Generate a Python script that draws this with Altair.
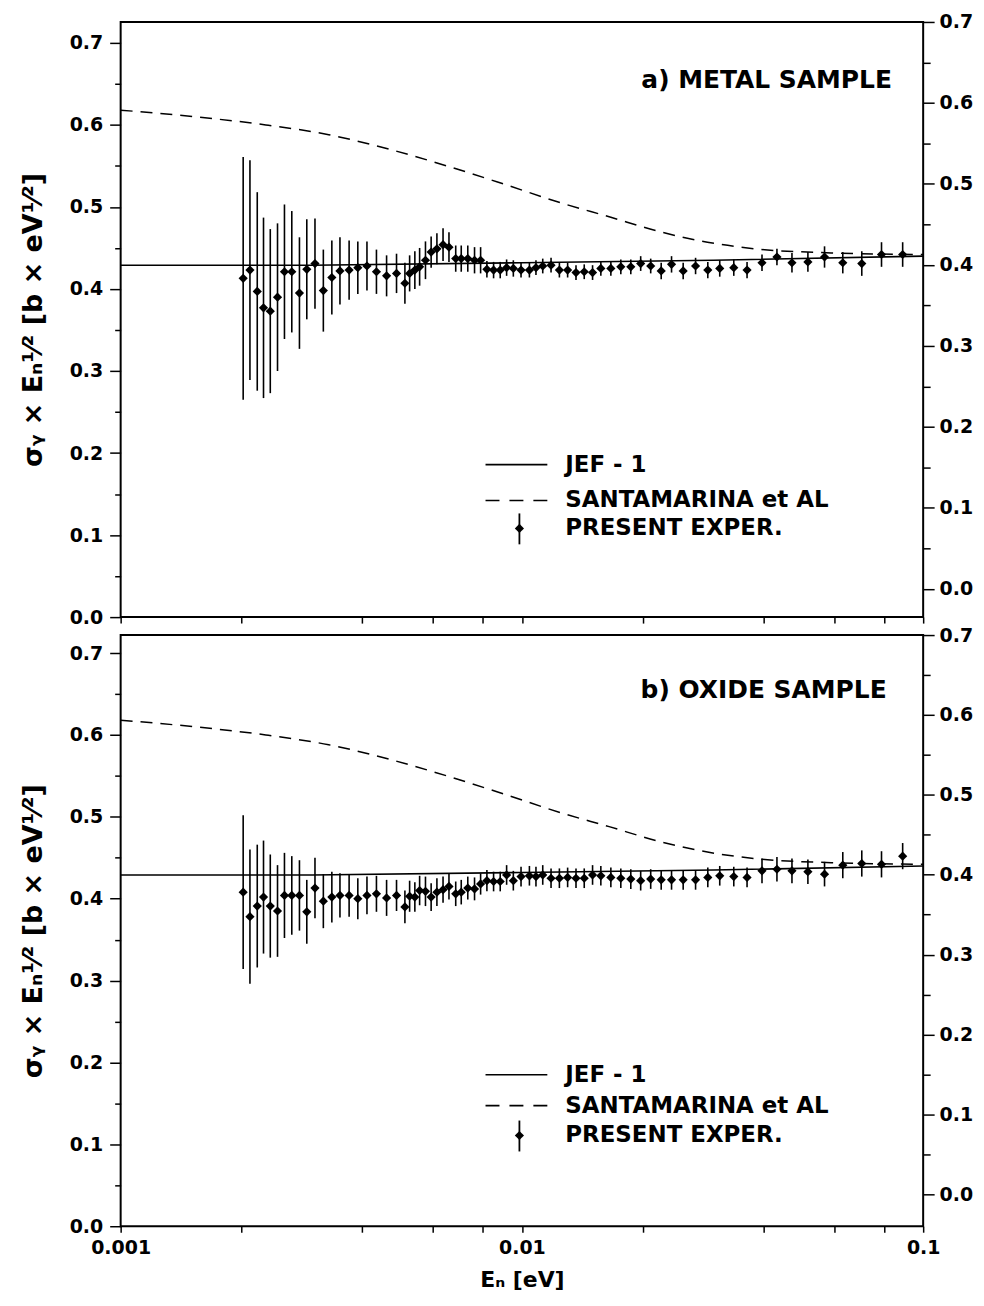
import altair as alt
import pandas as pd

# ---------------- data ----------------
energy = [
    0.00202, 0.00210, 0.00219, 0.00227, 0.00236, 0.00246, 0.00256, 0.00267, 0.00279, 0.00291,
    0.00305, 0.00320, 0.00336, 0.00352, 0.00371, 0.00390, 0.00411, 0.00434, 0.00460, 0.00487,
    0.00511, 0.00525, 0.00541, 0.00556, 0.00575, 0.00594, 0.00614, 0.00636, 0.00658, 0.00684,
    0.00706, 0.00733, 0.00762, 0.00789, 0.00818, 0.00850, 0.00883, 0.00916, 0.00952, 0.00995,
    0.01044, 0.01084, 0.01127, 0.01182, 0.01240, 0.01300, 0.01364, 0.01430, 0.01500, 0.01573,
    0.01666, 0.01764, 0.01868, 0.01977, 0.02094, 0.02224, 0.02360, 0.02523, 0.02709, 0.02906,
    0.03112, 0.03373, 0.03640, 0.03966, 0.04321, 0.04710, 0.05161, 0.05678, 0.06305, 0.07031,
    0.07874, 0.08890,
]

metal_values = [
    0.413, 0.423, 0.397, 0.377, 0.373, 0.390, 0.421, 0.421, 0.395, 0.424,
    0.431, 0.398, 0.414, 0.422, 0.423, 0.426, 0.428, 0.421, 0.416, 0.419,
    0.407, 0.419, 0.423, 0.427, 0.435, 0.445, 0.449, 0.454, 0.451, 0.437,
    0.437, 0.437, 0.435, 0.435, 0.424, 0.423, 0.423, 0.426, 0.425, 0.423,
    0.423, 0.426, 0.428, 0.429, 0.423, 0.423, 0.420, 0.421, 0.420, 0.425,
    0.425, 0.427, 0.427, 0.431, 0.428, 0.422, 0.430, 0.422, 0.428, 0.423,
    0.425, 0.426, 0.423, 0.432, 0.439, 0.432, 0.433, 0.439, 0.432, 0.431,
    0.442, 0.442,
]
metal_errors = [
    0.148, 0.134, 0.121, 0.110, 0.100, 0.090, 0.082, 0.074, 0.068, 0.061,
    0.055, 0.050, 0.045, 0.041, 0.036, 0.032, 0.030, 0.027, 0.025, 0.024,
    0.025, 0.022, 0.023, 0.023, 0.023, 0.019, 0.019, 0.020, 0.018, 0.016,
    0.016, 0.016, 0.016, 0.016, 0.010, 0.010, 0.010, 0.010, 0.010, 0.009,
    0.009, 0.009, 0.009, 0.009, 0.009, 0.009, 0.009, 0.009, 0.009, 0.009,
    0.009, 0.009, 0.009, 0.009, 0.009, 0.010, 0.010, 0.010, 0.010, 0.010,
    0.010, 0.010, 0.010, 0.010, 0.010, 0.012, 0.012, 0.013, 0.013, 0.015,
    0.015, 0.015,
]

oxide_values = [
    0.408, 0.378, 0.391, 0.402, 0.391, 0.385, 0.404, 0.404, 0.404, 0.384,
    0.413, 0.397, 0.402, 0.404, 0.404, 0.400, 0.404, 0.406, 0.401, 0.404,
    0.390, 0.403, 0.402, 0.410, 0.409, 0.402, 0.408, 0.411, 0.415, 0.406,
    0.408, 0.413, 0.412, 0.418, 0.422, 0.421, 0.421, 0.429, 0.422, 0.427,
    0.428, 0.427, 0.429, 0.425, 0.425, 0.426, 0.425, 0.425, 0.429, 0.428,
    0.426, 0.425, 0.424, 0.422, 0.424, 0.423, 0.423, 0.423, 0.423, 0.426,
    0.428, 0.427, 0.426, 0.434, 0.436, 0.434, 0.433, 0.430, 0.441, 0.443,
    0.442, 0.452,
]
oxide_errors = [
    0.094, 0.082, 0.075, 0.069, 0.063, 0.056, 0.052, 0.048, 0.043, 0.039,
    0.037, 0.033, 0.031, 0.027, 0.026, 0.025, 0.023, 0.022, 0.022, 0.019,
    0.020, 0.019, 0.018, 0.018, 0.018, 0.017, 0.017, 0.016, 0.016, 0.015,
    0.015, 0.014, 0.014, 0.013, 0.013, 0.012, 0.012, 0.012, 0.012, 0.012,
    0.012, 0.012, 0.012, 0.012, 0.012, 0.012, 0.012, 0.012, 0.012, 0.012,
    0.012, 0.012, 0.012, 0.012, 0.012, 0.012, 0.012, 0.012, 0.012, 0.012,
    0.012, 0.012, 0.012, 0.015, 0.015, 0.015, 0.015, 0.015, 0.016, 0.016,
    0.016, 0.016,
]

jef_energy = [0.001, 0.003, 0.01, 0.03, 0.1]
jef_values = [0.429, 0.429, 0.432, 0.435, 0.440]

santa_energy = [0.001, 0.0016, 0.0023, 0.0033, 0.0047, 0.0065, 0.009, 0.0125,
                0.0165, 0.022, 0.029, 0.038, 0.059, 0.1]
santa_values = [0.618, 0.609, 0.600, 0.588, 0.570, 0.550, 0.528, 0.505,
                0.488, 0.470, 0.457, 0.449, 0.444, 0.442]

x_tick_values = [0.001, 0.002, 0.004, 0.006, 0.008, 0.01, 0.02, 0.04, 0.06, 0.08, 0.1]
y_major = [0.0, 0.1, 0.2, 0.3, 0.4, 0.5, 0.6, 0.7]
y_minor = [0.05, 0.15, 0.25, 0.35, 0.45, 0.55, 0.65]

legend_labels = ["JEF - 1", "SANTAMARINA et AL", "PRESENT EXPER."]
panel_titles = ["a) METAL SAMPLE", "b) OXIDE SAMPLE"]
y_title = "σᵧ × Eₙ¹⁄² [b × eV¹⁄²]"
x_title = "Eₙ [eV]"

FONT = "DejaVu Sans"
W = 805


def panel(values, errors, title, height, ldom, rdom, legend_y, title_pos, bottom):
    exp = pd.DataFrame({"E": energy, "v": values,
                        "lo": [v - e for v, e in zip(values, errors)],
                        "hi": [v + e for v, e in zip(values, errors)]})
    jef = pd.DataFrame({"E": jef_energy, "v": jef_values})
    santa = pd.DataFrame({"E": santa_energy, "v": santa_values})
    one = pd.DataFrame({"k": [0]})

    if bottom:
        xaxis = alt.Axis(values=x_tick_values, title=x_title, tickSize=6, tickWidth=1.5,
                         labelExpr="datum.value == 0.001 ? '0.001' : datum.value == 0.01 ? '0.01' : datum.value == 0.1 ? '0.1' : ''",
                         labelPadding=6, titlePadding=12, domain=False, grid=False,
                         titleFontSize=22, labelFlush=False)
    else:
        xaxis = alt.Axis(values=x_tick_values, title=None, tickSize=6, tickWidth=1.5,
                         labels=False, domain=False, grid=False)
    xenc = alt.X("E:Q", scale=alt.Scale(type="log", domain=[0.001, 0.1], nice=False), axis=xaxis)

    lscale = alt.Scale(domain=ldom, nice=False, zero=False)
    rscale = alt.Scale(domain=rdom, nice=False, zero=False)

    jef_line = alt.Chart(jef).mark_line(color="black", strokeWidth=1.6).encode(
        x=xenc,
        y=alt.Y("v:Q", scale=lscale,
                axis=alt.Axis(orient="left", values=y_major, format=".1f", title=y_title,
                              tickSize=11, tickWidth=1.5, labelPadding=7, titlePadding=22,
                              domain=False, grid=False, titleFontSize=27)))
    left_minor = alt.Chart(jef).mark_point(opacity=0).encode(
        x=xenc,
        y=alt.Y("v:Q", scale=lscale,
                axis=alt.Axis(orient="left", values=y_minor, labels=False, title=None,
                              tickSize=6, tickWidth=1.5, domain=False, grid=False)))
    right_major = alt.Chart(jef).mark_point(opacity=0).encode(
        x=xenc,
        y=alt.Y("v:Q", scale=rscale,
                axis=alt.Axis(orient="right", values=y_major, format=".1f", title=None,
                              tickSize=11, tickWidth=1.5, labelPadding=5,
                              domain=False, grid=False)))
    right_minor = alt.Chart(jef).mark_point(opacity=0).encode(
        x=xenc,
        y=alt.Y("v:Q", scale=rscale,
                axis=alt.Axis(orient="right", values=y_minor, labels=False, title=None,
                              tickSize=7, tickWidth=1.5, domain=False, grid=False)))
    santa_line = alt.Chart(santa).mark_line(color="black", strokeWidth=1.5,
                                            strokeDash=[12, 8], interpolate="monotone").encode(
        x=xenc, y=alt.Y("v:Q", scale=lscale, axis=None))
    bars = alt.Chart(exp).mark_rule(color="black", strokeWidth=1.6).encode(
        x=xenc, y=alt.Y("lo:Q", scale=lscale, axis=None), y2="hi:Q")
    pts = alt.Chart(exp).mark_point(shape="diamond", filled=True, color="black",
                                    size=85, opacity=1).encode(
        x=xenc, y=alt.Y("v:Q", scale=lscale, axis=None))

    lx0, lx1, ltx, lsym = 366, 428, 446, 400
    y1, y2, y3 = legend_y
    leg_solid = alt.Chart(one).mark_rule(color="black", strokeWidth=1.6).encode(
        x=alt.value(lx0), x2=alt.value(lx1), y=alt.value(y1))
    leg_dash = alt.Chart(one).mark_rule(color="black", strokeWidth=1.6, strokeDash=[14, 10]).encode(
        x=alt.value(lx0), x2=alt.value(lx1), y=alt.value(y2))
    leg_bar = alt.Chart(one).mark_rule(color="black", strokeWidth=1.8).encode(
        x=alt.value(lsym), y=alt.value(y3 - 15), y2=alt.value(y3 + 16))
    leg_pt = alt.Chart(one).mark_point(shape="diamond", filled=True, color="black",
                                       size=85, opacity=1).encode(
        x=alt.value(lsym), y=alt.value(y3))
    texts = []
    for lab, yy in zip(legend_labels, legend_y):
        texts.append(alt.Chart(one).mark_text(align="left", baseline="middle", font=FONT,
                                              fontSize=23, fontWeight="bold", color="black").encode(
            x=alt.value(ltx), y=alt.value(yy), text=alt.value(lab)))
    ttl = alt.Chart(one).mark_text(align="center", baseline="middle", font=FONT,
                                   fontSize=25, fontWeight="bold", color="black").encode(
        x=alt.value(title_pos[0]), y=alt.value(title_pos[1]), text=alt.value(title))

    layers = [jef_line, left_minor, right_major, right_minor, santa_line, bars, pts,
              leg_solid, leg_dash, leg_bar, leg_pt] + texts + [ttl]
    return alt.layer(*layers).resolve_scale(y="independent").properties(width=W, height=height)


top = panel(metal_values, metal_errors, panel_titles[0], 597, [0, 0.7255], [-0.035, 0.70],
            (444, 480, 508), (648, 58), bottom=False)
bot = panel(oxide_values, oxide_errors, panel_titles[1], 593, [0, 0.722], [-0.04, 0.70],
            (441, 472, 502), (645, 55), bottom=True)

chart = alt.vconcat(top, bot, spacing=18, bounds="flush").properties(
    padding={"left": 10, "top": 2, "right": 2, "bottom": 5},
    background="white",
).configure_view(stroke="black", strokeWidth=2).configure_axis(
    labelFont=FONT, labelFontWeight="bold", labelFontSize=19, labelColor="black",
    titleFont=FONT, titleFontWeight="bold", titleColor="black", tickColor="black"
)

chart.save("out.html", embed_options={"renderer": "svg", "actions": False})
